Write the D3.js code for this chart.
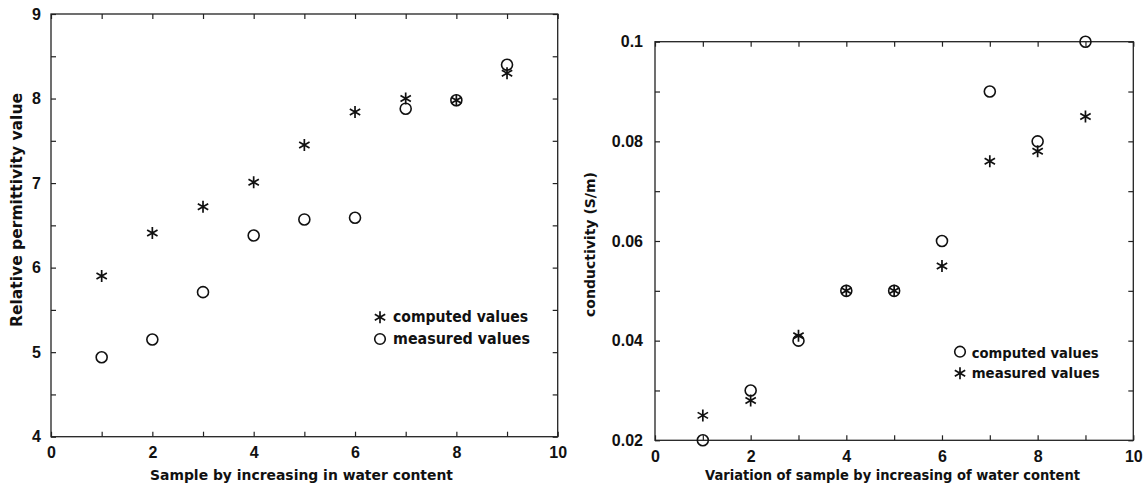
<!DOCTYPE html>
<html>
<head>
<meta charset="utf-8">
<script src="https://cdn.jsdelivr.net/npm/d3@7"></script>
<style>
  html, body { margin: 0; padding: 0; background: #fff; }
  svg { display: block; }
  text { font-family: "DejaVu Sans", "Liberation Sans", Arial, sans-serif; font-weight: bold; fill: #111; }
</style>
</head>
<body>
<svg id="chart" width="1146" height="490"></svg>
<script>
// ---------- data ----------
const samples = [1, 2, 3, 4, 5, 6, 7, 8, 9];

// Left panel: relative permittivity
const permComputed = [5.90, 6.41, 6.72, 7.01, 7.45, 7.84, 8.00, 7.98, 8.30];
const permMeasured = [4.94, 5.15, 5.71, 6.38, 6.57, 6.59, 7.88, 7.98, 8.40];

// Right panel: conductivity (S/m)
const condComputed = [0.020, 0.030, 0.040, 0.050, 0.050, 0.060, 0.090, 0.080, 0.100];
const condMeasured = [0.025, 0.028, 0.041, 0.050, 0.050, 0.055, 0.076, 0.078, 0.085];

// ticks
const xTicks = [0, 1, 2, 3, 4, 5, 6, 7, 8, 9, 10];
const xTickLabels = ["0", "", "2", "", "4", "", "6", "", "8", "", "10"];
const permTicks = [4, 4.5, 5, 5.5, 6, 6.5, 7, 7.5, 8, 8.5, 9];
const permTickLabels = ["4", "", "5", "", "6", "", "7", "", "8", "", "9"];
const condTicks = [0.02, 0.03, 0.04, 0.05, 0.06, 0.07, 0.08, 0.09, 0.10];
const condTickLabels = ["0.02", "", "0.04", "", "0.06", "", "0.08", "", "0.1"];

const leftTitles = { x: "Sample by increasing in water content", y: "Relative permittivity value" };
const rightTitles = { x: "Variation of sample by increasing of water content", y: "conductivity (S/m)" };
const leftLegend = [{ label: "computed values", sym: "star" }, { label: "measured values", sym: "circle" }];
const rightLegend = [{ label: "computed values", sym: "circle" }, { label: "measured values", sym: "star" }];

// ---------- drawing ----------
const svg = d3.select("#chart");
const stroke = "#222";

function starPath(r) {
  // 6-armed asterisk centred at 0,0
  let p = "";
  for (let k = 0; k < 3; k++) {
    const a = Math.PI / 2 + k * Math.PI / 3;
    const dx = r * Math.cos(a), dy = r * Math.sin(a);
    p += `M${-dx},${-dy}L${dx},${dy}`;
  }
  return p;
}

function drawMarks(g, xs, ys, sym, x, y, r) {
  if (sym === "circle") {
    g.selectAll(null).data(xs.map((d, i) => [d, ys[i]])).join("circle")
      .attr("cx", d => x(d[0])).attr("cy", d => y(d[1])).attr("r", r)
      .attr("fill", "none").attr("stroke", "#111").attr("stroke-width", 1.6);
  } else {
    g.selectAll(null).data(xs.map((d, i) => [d, ys[i]])).join("path")
      .attr("transform", d => `translate(${x(d[0])},${y(d[1])})`)
      .attr("d", starPath(r + 0.5))
      .attr("fill", "none").attr("stroke", "#111").attr("stroke-width", 1.7);
  }
}

function panel(cfg) {
  const { x0, x1, y0, y1, yDomain, yTicks, yLabels, yPad, titles, series, legend } = cfg;
  const x = d3.scaleLinear().domain([0, 10]).range([x0, x1]);
  const y = d3.scaleLinear().domain(yDomain).range([y1, y0]);
  const g = svg.append("g");

  const fmtX = d => xTickLabels[xTicks.indexOf(d)];
  const fmtY = d => yLabels[yTicks.findIndex(t => Math.abs(t - d) < 1e-9)];

  const axes = [
    g.append("g").attr("transform", `translate(0,${y1})`)
      .call(d3.axisBottom(x).tickValues(xTicks).tickFormat(fmtX).tickSizeInner(-5).tickSizeOuter(0).tickPadding(10)),
    g.append("g").attr("transform", `translate(0,${y0})`)
      .call(d3.axisTop(x).tickValues(xTicks).tickFormat("").tickSizeInner(-5).tickSizeOuter(0)),
    g.append("g").attr("transform", `translate(${x0},0)`)
      .call(d3.axisLeft(y).tickValues(yTicks).tickFormat(fmtY).tickSizeInner(-5).tickSizeOuter(0).tickPadding(yPad)),
    g.append("g").attr("transform", `translate(${x1},0)`)
      .call(d3.axisRight(y).tickValues(yTicks).tickFormat("").tickSizeInner(-5).tickSizeOuter(0))
  ];
  axes.forEach(a => {
    a.select(".domain").remove();
    a.selectAll(".tick line").attr("stroke", stroke).attr("stroke-width", 1.2);
    a.selectAll(".tick text").attr("font-size", 16).attr("fill", "#111")
      .style("font-family", '"Liberation Sans", Arial, sans-serif').style("font-weight", "bold");
  });

  g.append("rect").attr("x", x0).attr("y", y0).attr("width", x1 - x0).attr("height", y1 - y0)
    .attr("fill", "none").attr("stroke", stroke).attr("stroke-width", 1.3);

  series.forEach(s => drawMarks(g.append("g"), samples, s.values, s.sym, x, y, 5.5));

  // titles
  g.append("text").attr("x", titles.xc).attr("y", titles.xBase).attr("text-anchor", "middle")
    .attr("font-size", titles.xSize).attr("textLength", titles.xLen).attr("lengthAdjust", "spacingAndGlyphs")
    .text(titles.x);
  g.append("text").attr("transform", `translate(${titles.yBase},${titles.yc}) rotate(-90)`)
    .attr("text-anchor", "middle").attr("font-size", titles.ySize)
    .attr("textLength", titles.yLen).attr("lengthAdjust", "spacingAndGlyphs").text(titles.y);

  // legend
  legend.items.forEach((it, i) => {
    const mx = legend.mx, my = legend.my[i];
    if (it.sym === "circle") {
      g.append("circle").attr("cx", mx).attr("cy", my).attr("r", 5.3)
        .attr("fill", "none").attr("stroke", "#111").attr("stroke-width", 1.6);
    } else {
      g.append("path").attr("transform", `translate(${mx},${my})`).attr("d", starPath(6))
        .attr("fill", "none").attr("stroke", "#111").attr("stroke-width", 1.7);
    }
    g.append("text").attr("x", legend.tx).attr("y", legend.base[i]).attr("font-size", legend.size)
      .attr("textLength", legend.len[i]).attr("lengthAdjust", "spacingAndGlyphs").text(it.label);
  });
}

panel({
  x0: 51, x1: 557.7, y0: 14, y1: 436.7,
  yDomain: [4, 9], yTicks: permTicks, yLabels: permTickLabels, yPad: 10,
  titles: { x: leftTitles.x, y: leftTitles.y, xc: 301.5, xBase: 480, xSize: 14.5, xLen: 303,
            yc: 210, yBase: 22, ySize: 15, yLen: 234 },
  series: [{ values: permComputed, sym: "star" }, { values: permMeasured, sym: "circle" }],
  legend: { items: leftLegend, mx: 380, my: [317.3, 339], tx: 393, base: [321.5, 344], size: 15, len: [135, 137] }
});

panel({
  x0: 655, x1: 1133.3, y0: 41.7, y1: 440.3,
  yDomain: [0.02, 0.1], yTicks: condTicks, yLabels: condTickLabels, yPad: 12,
  titles: { x: rightTitles.x, y: rightTitles.y, xc: 892.5, xBase: 480, xSize: 14, xLen: 375,
            yc: 244.5, yBase: 595, ySize: 13.5, yLen: 145 },
  series: [{ values: condComputed, sym: "circle" }, { values: condMeasured, sym: "star" }],
  legend: { items: rightLegend, mx: 960, my: [351.7, 373.3], tx: 971.7, base: [358, 378.3], size: 14, len: [127, 128] }
});
</script>
</body>
</html>
